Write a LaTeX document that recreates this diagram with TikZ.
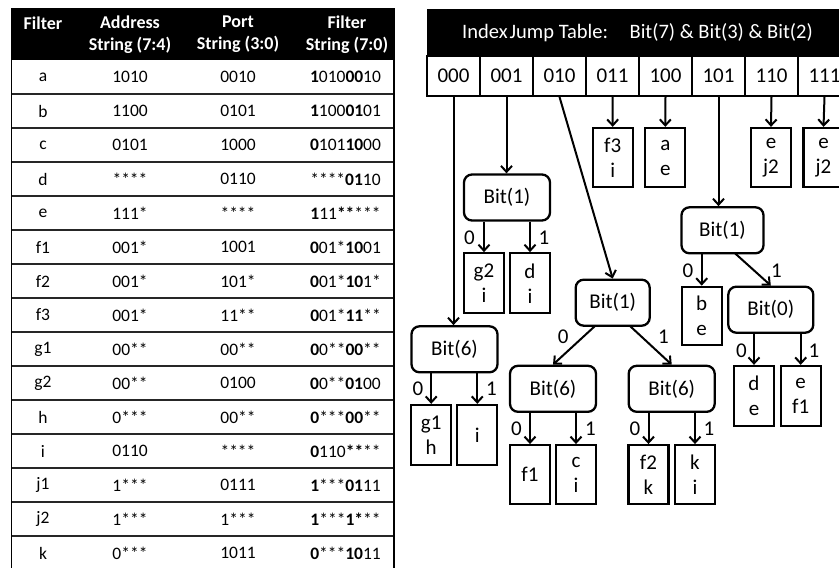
\documentclass[tikz,border=0pt]{standalone}
\usepackage{fontspec}
\setmainfont{Carlito}
\usetikzlibrary{arrows.meta}
\begin{document}
\begin{tikzpicture}[x=1pt,y=-1pt,
  conn/.style={line width=2pt,-{Straight Barb[length=6pt,width=11pt,line width=2pt]}},
  leaf/.style={draw,line width=2.3pt,minimum width=40pt,minimum height=59pt,inner sep=0pt,align=center,font=\fontsize{21}{25}\selectfont},
  bitbox/.style={draw,line width=2.3pt,rounded corners=8pt,minimum height=46pt,inner sep=0pt,font=\fontsize{21}{25}\selectfont},
  lab/.style={font=\fontsize{21}{25}\selectfont,inner sep=0pt},
  cell/.style={draw,line width=1.8pt,minimum width=53pt,minimum height=40pt,inner sep=0pt,font=\fontsize{21}{25}\selectfont},
  hdr/.style={text=white,font=\fontsize{18}{22}\selectfont\bfseries,align=center,inner sep=0pt},
  td/.style={font=\fontsize{17.5}{21}\selectfont,inner sep=0pt,text=black}
]
\useasboundingbox (0,0) rectangle (839,568);
\clip (0,0) rectangle (839,568);

% ---------------- left table ----------------
\fill (11.5,9) rectangle (394,60);
\foreach \i in {1,...,15}{
  \draw[line width=1.4pt,black!85] (11.5,{60+\i*34}) -- (394,{60+\i*34});
}
\draw[line width=1.5pt] (11.5,9) rectangle (394,590);
\node[hdr] (h1) at (43,23.5) {Filter};
\node[hdr] (h2) at (130,34.5) {Address\\String (7:4)};
\node[hdr] (h3) at (238,34.5) {Port\\String (3:0)};
\node[hdr] (h4) at (347,34.5) {Filter\\String (7:0)};

\foreach \r/\f/\a/\p/\s in {
 1/a/1010/0010/{\textbf{1}010\textbf{00}10},
 2/b/1100/0101/{\textbf{1}100\textbf{01}01},
 3/c/0101/1000/{\textbf{0}101\textbf{10}00},
 4/d/****/0110/{****\textbf{01}10},
 5/e/111*/****/{\textbf{1}11\textbf{**}***},
 6/f1/001*/1001/{\textbf{0}01*\textbf{10}01},
 7/f2/001*/101*/{\textbf{0}01*\textbf{10}1*},
 8/f3/001*/11**/{\textbf{0}01*\textbf{11}**},
 9/g1/00**/00**/{\textbf{0}0**\textbf{00}**},
 10/g2/00**/0100/{\textbf{0}0**\textbf{01}00},
 11/h/0***/00**/{\textbf{0}***\textbf{00}**},
 12/i/0110/****/{\textbf{0}110\textbf{**}**},
 13/j1/1***/0111/{\textbf{1}***\textbf{01}11},
 14/j2/1***/1***/{\textbf{1}***\textbf{1*}**},
 15/k/0***/1011/{\textbf{0}***\textbf{10}11}}{
  \node[td] (rf\r) at (43,{60+(\r-0.5)*34}) {\f};
  \node[td] (ra\r) at (130,{60+(\r-0.5)*34}) {\a};
  \node[td] (rp\r) at (238,{60+(\r-0.5)*34}) {\p};
  \node[td] (rs\r) at (345.5,{60+(\r-0.5)*34}) {\s};
}

% ---------------- jump table ----------------
\fill (427,9) rectangle (860,56);
\node[text=white,font=\fontsize{20.5}{24}\selectfont,inner sep=0pt] (title) at (637.5,33) {Index\hspace{0.1em}Jump Table:\hspace{1.05em}Bit(7) \& Bit(3) \& Bit(2)};
\foreach \k/\t in {0/000,1/001,2/010,3/011,4/100,5/101,6/110,7/111}{
  \node[cell] (c\t) at ({453.5+53*\k},76) {\t};
}

% leaves under jump table
\node[leaf] (l011) at (612.7,157.5) {f3\\i};
\node[leaf] (l100) at (665.3,157.5) {a\\e};
\node[leaf] (l110) at (771,157.5) {e\\j2};
\node[leaf] (l111) at (823.5,157.5) {e\\j2};
\draw[conn] (c011.south) -- (l011.north);
\draw[conn] (c100.south) -- (l100.north);
\draw[conn] (c110.south) -- (l110.north);
\draw[conn] (c111.south) -- (l111.north);

% 001 branch
\node[bitbox,minimum width=86pt] (b1a) at (507,197.5) {Bit(1)};
\draw[conn] (c001.south) -- (c001.south |- b1a.north);
\node[leaf,minimum height=60pt] (g2i) at (484,283.3) {g2\\i};
\node[leaf,minimum height=60pt] (di) at (530,283.3) {d\\i};
\draw[conn] (g2i.north |- b1a.south) -- (g2i.north);
\draw[conn] (di.north |- b1a.south) -- (di.north);
\node[lab] (la0) at (469.5,238) {0};
\node[lab] (la1) at (544,238) {1};

% 000 branch
\node[bitbox,minimum width=86pt] (b6a) at (454.5,349.3) {Bit(6)};
\draw[conn] (c000.south) -- (c000.south |- b6a.north);
\node[leaf,minimum height=60pt] (g1h) at (431.2,435) {g1\\h};
\node[leaf,minimum height=60pt] (ia) at (477.3,435) {i};
\draw[conn] (g1h.north |- b6a.south) -- (g1h.north);
\draw[conn] (ia.north |- b6a.south) -- (ia.north);
\node[lab] (lb0) at (418,389) {0};
\node[lab] (lb1) at (491.5,389) {1};

% 010 branch
\node[bitbox,minimum width=74pt] (b1c) at (612.7,302.7) {Bit(1)};
\draw[conn] (c010.south) -- (b1c.north);
\node[bitbox,minimum width=86pt] (b6l) at (553,388.8) {Bit(6)};
\node[bitbox,minimum width=86pt] (b6r) at (671.7,388.8) {Bit(6)};
\coordinate (b1cl) at (595,326);
\coordinate (b1cr) at (630,326);
\draw[conn] (b1cl) -- (b6l.north);
\draw[conn] (b1cr) -- (b6r.north);
\node[lab] (lc0) at (563.3,337) {0};
\node[lab] (lc1) at (663.5,337) {1};
\node[leaf,minimum height=59pt] (f1) at (530,474.7) {f1};
\node[leaf,minimum height=59pt] (ci) at (576,474.7) {c\\i};
\node[leaf,minimum height=59pt] (f2k) at (648.5,474.7) {f2\\k};
\node[leaf,minimum height=59pt] (ki) at (695,474.7) {k\\i};
\draw[conn] (f1.north |- b6l.south) -- (f1.north);
\draw[conn] (ci.north |- b6l.south) -- (ci.north);
\draw[conn] (f2k.north |- b6r.south) -- (f2k.north);
\draw[conn] (ki.north |- b6r.south) -- (ki.north);
\node[lab] (ld0) at (516.5,429) {0};
\node[lab] (ld1) at (590.5,429) {1};
\node[lab] (le0) at (635,429) {0};
\node[lab] (le1) at (709,429) {1};

% 101 branch
\node[bitbox,minimum width=82pt] (b1b) at (722.5,230.3) {Bit(1)};
\draw[conn] (c101.south) -- (c101.south |- b1b.north);
\node[leaf,minimum height=58pt] (be) at (701.7,315.8) {b\\e};
\node[bitbox,minimum width=85pt] (b0) at (770.8,309.7) {Bit(0)};
\draw[conn] (be.north |- b1b.south) -- (be.north);
\coordinate (b1bs) at (735,253.3);
\draw[conn] (b1bs) -- (b0.north);
\node[lab] (lf0) at (688,271) {0};
\node[lab] (lf1) at (776.5,271) {1};
\node[leaf,minimum height=60pt] (de) at (754,396) {d\\e};
\node[leaf,minimum height=60pt] (ef1) at (800.7,396) {e\\f1};
\draw[conn] (de.north |- b0.south) -- (de.north);
\draw[conn] (ef1.north |- b0.south) -- (ef1.north);
\node[lab] (lg0) at (741.5,351) {0};
\node[lab] (lg1) at (814,351) {1};
\end{tikzpicture}
\end{document}
